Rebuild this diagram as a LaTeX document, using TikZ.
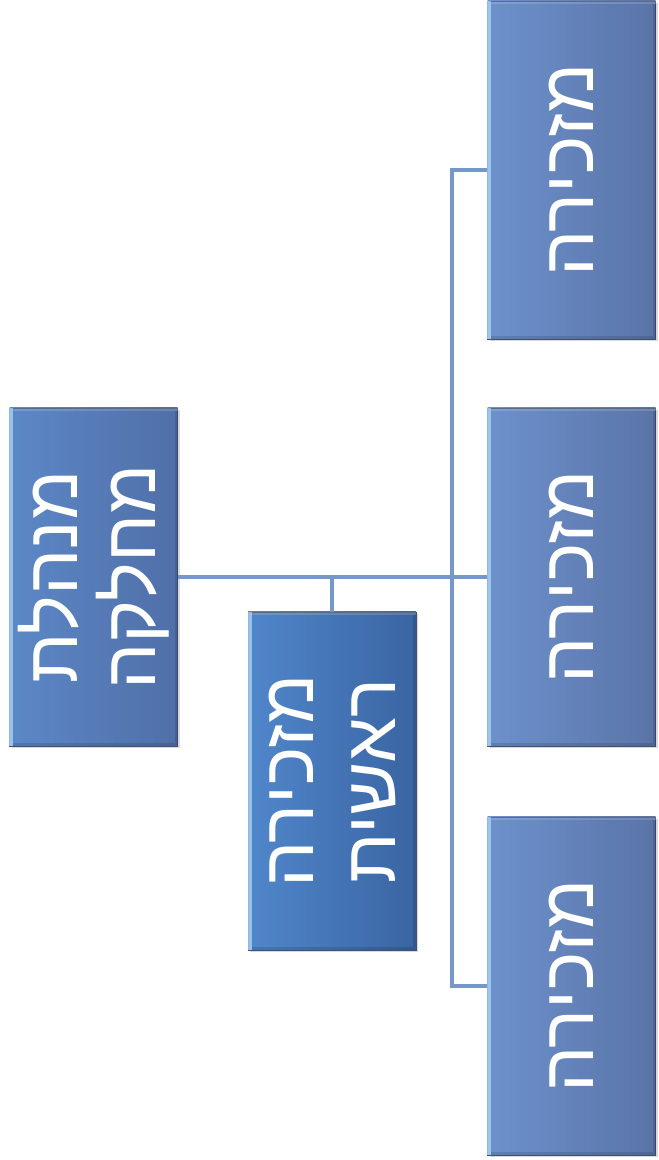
\documentclass[tikz,border=0pt]{standalone}
\usepackage{fontspec}
\newfontfamily\hebfont[Script=Hebrew]{Liberation Sans}
\TeXXeTstate=1
\usepackage{xcolor}
\definecolor{bline}{HTML}{7697CB}
\definecolor{bleft}{HTML}{6D91CD}
\definecolor{bright}{HTML}{5A74A7}
\definecolor{mleft}{HTML}{5C88C7}
\definecolor{mright}{HTML}{506FA8}
\definecolor{sleft}{HTML}{5087CB}
\definecolor{sright}{HTML}{3A64A2}
\definecolor{hilite}{HTML}{A8D2F4}
\usetikzlibrary{shadows}
\begin{document}
\begin{tikzpicture}[x=1pt,y=1pt,
	box/.style={rotate=90,minimum width=338pt,minimum height=168pt,inner sep=0pt,
		left color=bleft,right color=bright,draw=bright!70!black,line width=.6pt,
		text=white,align=center,font={\hebfont\fontsize{73}{78}\selectfont},
		drop shadow={shadow xshift=2pt,shadow yshift=-2pt,opacity=.3}},
	conn/.style={draw=bline,line width=3.5pt}]
	\useasboundingbox (0,0) rectangle (659,1160);
	% boxes
	\node[box,left color=mleft,right color=mright] (mgr) at (93.5,583) {\beginR מנהלת\endR\\\beginR מחלקה\endR};
	\node[box,left color=sleft,right color=sright] (sec) at (332,379) {\beginR מזכירה\endR\\[4pt]\beginR ראשית\endR};
	\node[box] (sA) at (571.5,990) {\beginR מזכירה\endR};
	\node[box] (sB) at (571.5,583) {\beginR מזכירה\endR};
	\node[box] (sC) at (571.5,174) {\beginR מזכירה\endR};
	% bevel edges
	\foreach \b in {mgr,sec,sA,sB,sC}{
		\fill[hilite,opacity=.8] (\b.north west) rectangle ([xshift=4pt]\b.north east);
		\fill[white,opacity=.15] ([xshift=4pt]\b.north east) rectangle ([yshift=-3pt]\b.south east);
		\fill[black,opacity=.12] ([xshift=4pt]\b.north west) rectangle ([yshift=3pt]\b.south west);
		\fill[black,opacity=.12] ([xshift=-3pt,yshift=-3pt]\b.south east) rectangle ([yshift=3pt]\b.south west);
	}
	\coordinate (bus) at (452,583);
	% connectors
	\draw[conn] (mgr.south) -- (sB.north);
	\draw[conn] (sA.north) -| (bus) |- (sC.north);
	\draw[conn] (sec.east |- mgr.south) -- (sec.east);
\end{tikzpicture}
\end{document}
